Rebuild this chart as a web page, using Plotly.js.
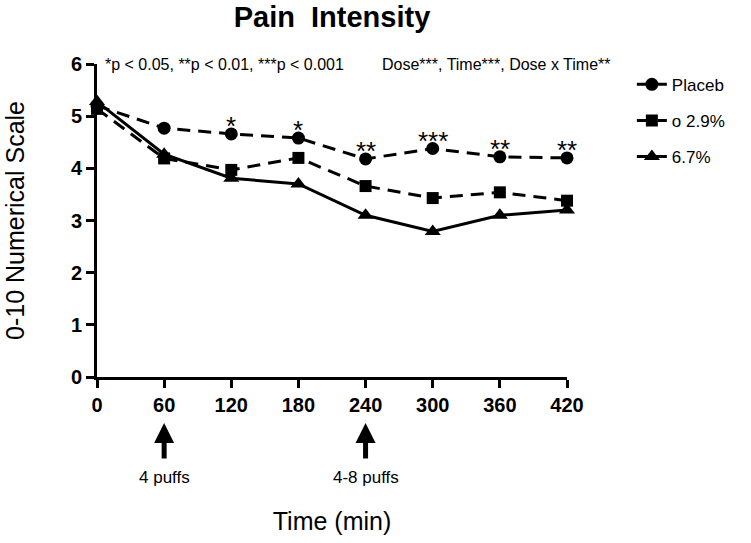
<!DOCTYPE html>
<html>
<head>
<meta charset="utf-8">
<script src="https://cdn.plot.ly/plotly-3.0.1.min.js"></script>
<style>html,body{margin:0;padding:0;background:#fff;}#chart{width:751px;height:543px;}</style>
</head>
<body>
<div id="chart"></div>
<script>
// ---- data ----
const timeMin = [0, 60, 120, 180, 240, 300, 360, 420];
const placebo = [5.20, 4.77, 4.66, 4.58, 4.18, 4.38, 4.22, 4.20];
const dose29 = [5.14, 4.19, 3.97, 4.20, 3.66, 3.43, 3.54, 3.38];
const dose67 = [5.28, 4.27, 3.81, 3.70, 3.10, 2.79, 3.10, 3.20];
const seriesNames = ["Placeb", "o 2.9%", "6.7%"];
const sigLabels = ["", "", "*", "*", "**", "***", "**", "**"];
const xTicks = [0, 60, 120, 180, 240, 300, 360, 420];
const yTicks = [0, 1, 2, 3, 4, 5, 6];
const doseTimes = [60, 240];
const doseLabels = ["4 puffs", "4-8 puffs"];

const FONT = "Arial, 'Liberation Sans', Helvetica, sans-serif";

const traces = [
  {x: timeMin, y: placebo, name: seriesNames[0], legendgroup: "a",
   mode: "lines+markers", line: {color: "#000", width: 3, dash: "13px,8px"},
   marker: {symbol: "circle", size: 13, color: "#000"}, cliponaxis: false},
  {x: timeMin, y: dose29, name: seriesNames[1], legendgroup: "b",
   mode: "lines+markers", line: {color: "#000", width: 3, dash: "13px,8px"},
   marker: {symbol: "square", size: 12, color: "#000"}, cliponaxis: false},
  {x: timeMin, y: dose67, name: seriesNames[2], legendgroup: "c",
   mode: "lines+markers", line: {color: "#000", width: 3},
   marker: {symbol: "triangle-up", size: 14, color: "#000"}, cliponaxis: false}
];

const annotations = [];
timeMin.forEach((t, i) => {
  if (sigLabels[i]) {
    annotations.push({x: t, y: placebo[i], xref: "x", yref: "y", text: sigLabels[i],
      showarrow: false, yanchor: "middle", yshift: 8,
      font: {family: FONT, size: 26, color: "#000"}});
  }
});
doseTimes.forEach((t, i) => {
  annotations.push({x: t, y: -0.147, xref: "x", yref: "paper", text: "",
    showarrow: true, ax: 0, ay: 37, arrowhead: 2, arrowsize: 0.8, arrowwidth: 5,
    arrowcolor: "#000", standoff: 0});
  annotations.push({x: t, y: -0.322, xref: "x", yref: "paper", text: doseLabels[i],
    showarrow: false, yanchor: "middle", font: {family: FONT, size: 17, color: "#000"}});
});
annotations.push({x: 0.0128, y: 1.0, xref: "paper", yref: "paper", xanchor: "left", yanchor: "middle",
  text: "*p < 0.05, **p < 0.01, ***p < 0.001", showarrow: false,
  font: {family: FONT, size: 16, color: "#000"}});
annotations.push({x: 0.602, y: 1.0, xref: "paper", yref: "paper", xanchor: "left", yanchor: "middle",
  text: "Dose***, Time***, Dose x Time**", showarrow: false,
  font: {family: FONT, size: 16, color: "#000"}});

const layout = {
  width: 751, height: 543,
  margin: {l: 97, r: 184, t: 64, b: 166},
  paper_bgcolor: "#fff", plot_bgcolor: "#fff",
  font: {family: FONT, color: "#000"},
  title: {text: "<b>Pain  Intensity</b>", x: 0.5, xref: "paper", y: 0.969, yanchor: "middle",
    font: {family: FONT, size: 29, color: "#000"}},
  xaxis: {range: [0, 420], tickvals: xTicks, ticktext: xTicks.map(String),
    showgrid: false, zeroline: false, showline: true, linewidth: 3, linecolor: "#000",
    ticks: "outside", ticklen: 8, tickwidth: 3, tickcolor: "#000",
    tickfont: {family: FONT, size: 20, color: "#000", weight: "bold"},
    title: {text: "Time (min)", standoff: 98, font: {family: FONT, size: 25, color: "#000"}}},
  yaxis: {range: [0, 6], tickvals: yTicks, ticktext: yTicks.map(String),
    showgrid: false, zeroline: false, showline: true, linewidth: 3, linecolor: "#000",
    ticks: "outside", ticklen: 8, tickwidth: 3, tickcolor: "#000",
    tickfont: {family: FONT, size: 20, color: "#000", weight: "bold"},
    title: {text: "0-10 Numerical Scale", standoff: 40, font: {family: FONT, size: 25, color: "#000"}}},
  showlegend: true,
  legend: {x: 1.138, y: 0.991, xanchor: "left", yanchor: "top", traceorder: "grouped",
    tracegroupgap: 11, font: {family: FONT, size: 17, color: "#000"},
    bgcolor: "rgba(0,0,0,0)", borderwidth: 0},
  annotations: annotations
};

Plotly.newPlot("chart", traces, layout, {displayModeBar: false, staticPlot: true});
</script>
</body>
</html>
